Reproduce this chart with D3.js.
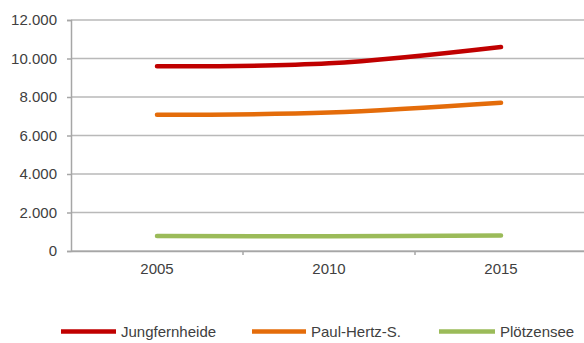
<!DOCTYPE html>
<html>
<head>
<meta charset="utf-8">
<script src="https://cdn.jsdelivr.net/npm/d3@7"></script>
<style>
  html, body { margin: 0; padding: 0; background: #fff; }
  svg { display: block; }
  text { font-family: "Liberation Sans", Arial, sans-serif; fill: #404040; }
</style>
</head>
<body>
<svg id="chart" width="584" height="343"></svg>
<script>
// Visitor counts per station, 2005–2015
const years = ["2005", "2010", "2015"];
const seriesNames = ["Jungfernheide", "Paul-Hertz-S.", "Plötzensee"];
const jungfernheide = [9600, 9750, 10600];
const paulHertz = [7080, 7190, 7700];
const ploetzensee = [780, 770, 810];
const yTicks = [0, 2000, 4000, 6000, 8000, 10000, 12000];
const colors = ["#C00000", "#E46C0A", "#9BBB59"];

const seriesValues = [jungfernheide, paulHertz, ploetzensee];

const svg = d3.select("#chart");
const plotLeft = 71, plotRight = 587, plotTop = 20, plotBottom = 251;

const x = d3.scaleBand().domain(years).range([plotLeft, plotRight]).padding(0);
const y = d3.scaleLinear().domain([0, 12000]).range([plotBottom, plotTop]);

const fmt = v => d3.format(",")(v).replace(/,/g, ".");

// Horizontal gridlines
svg.append("g")
  .selectAll("line")
  .data(yTicks)
  .join("line")
  .attr("x1", plotLeft).attr("x2", 584)
  .attr("y1", d => y(d)).attr("y2", d => y(d))
  .attr("stroke", "#b9b9b9")
  .attr("stroke-width", 1.5);

// Y axis
const yAxis = svg.append("g")
  .attr("transform", `translate(${plotLeft},0)`)
  .call(d3.axisLeft(y).tickValues(yTicks).tickFormat(fmt).tickSize(4).tickPadding(10));
yAxis.select(".domain").attr("stroke", "#a6a6a6").attr("stroke-width", 1.5);
yAxis.selectAll(".tick line").attr("stroke", "#a6a6a6").attr("stroke-width", 1.5);
yAxis.selectAll("text").attr("font-size", 15).attr("fill", "#404040")
  .attr("font-family", "'Liberation Sans', Arial, sans-serif");

// X axis: labels centred on categories, tick marks at category boundaries
const xAxis = svg.append("g")
  .attr("transform", `translate(0,${plotBottom})`)
  .call(d3.axisBottom(x).tickSize(0).tickPadding(0));
xAxis.select(".domain").attr("stroke", "#a6a6a6").attr("stroke-width", 1.5);
xAxis.selectAll("text")
  .attr("y", 23).attr("dy", 0)
  .attr("font-size", 15).attr("fill", "#404040")
  .attr("font-family", "'Liberation Sans', Arial, sans-serif");
xAxis.selectAll("line.boundary")
  .data(years.slice(1))
  .join("line")
  .attr("class", "boundary")
  .attr("x1", d => x(d)).attr("x2", d => x(d))
  .attr("y1", 0).attr("y2", 4)
  .attr("stroke", "#a6a6a6").attr("stroke-width", 1.5);

// Smoothed series lines
const line = d3.line()
  .x((d, i) => x(years[i]) + x.bandwidth() / 2)
  .y(d => y(d))
  .curve(d3.curveCatmullRom.alpha(0.5));

svg.append("g")
  .selectAll("path")
  .data(seriesValues)
  .join("path")
  .attr("d", d => line(d))
  .attr("fill", "none")
  .attr("stroke", (d, i) => colors[i])
  .attr("stroke-width", 4.5)
  .attr("stroke-linecap", "round");

// Legend
const legendItems = [
  { x1: 61, x2: 116, tx: 121 },
  { x1: 252, x2: 306, tx: 311 },
  { x1: 439, x2: 495, tx: 500 }
];
const legend = svg.append("g");
legendItems.forEach((item, i) => {
  legend.append("line")
    .attr("x1", item.x1).attr("x2", item.x2)
    .attr("y1", 331.5).attr("y2", 331.5)
    .attr("stroke", colors[i]).attr("stroke-width", 4.5);
  legend.append("text")
    .attr("x", item.tx).attr("y", 336.5)
    .attr("font-size", 15)
    .text(seriesNames[i]);
});
</script>
</body>
</html>
